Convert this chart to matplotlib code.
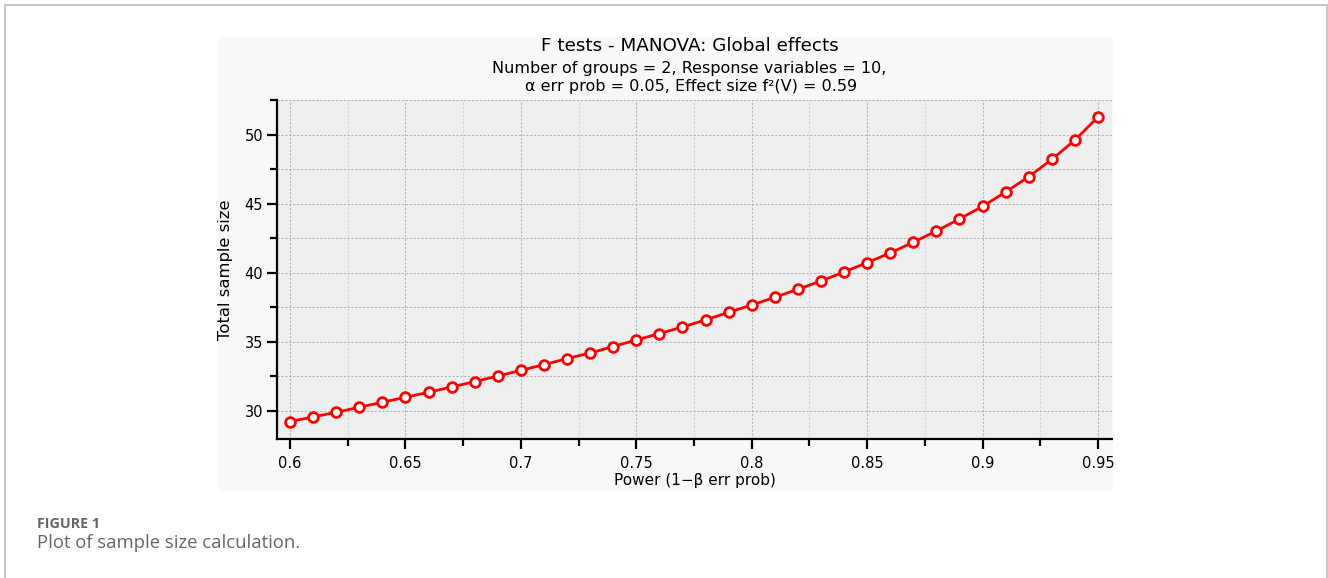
import matplotlib
matplotlib.use("Agg")
import matplotlib.pyplot as plt
from matplotlib.patches import Rectangle
from matplotlib.ticker import MultipleLocator, FixedLocator, FixedFormatter

# ---- data ----
power = [0.60, 0.61, 0.62, 0.63, 0.64, 0.65, 0.66, 0.67, 0.68, 0.69,
         0.70, 0.71, 0.72, 0.73, 0.74, 0.75, 0.76, 0.77, 0.78, 0.79,
         0.80, 0.81, 0.82, 0.83, 0.84, 0.85, 0.86, 0.87, 0.88, 0.89,
         0.90, 0.91, 0.92, 0.93, 0.94, 0.95]
sample_size = [29.23, 29.57, 29.90, 30.27, 30.63, 30.99, 31.35, 31.74, 32.12, 32.53,
               32.94, 33.35, 33.79, 34.20, 34.66, 35.14, 35.60, 36.08, 36.59, 37.14,
               37.67, 38.23, 38.81, 39.41, 40.06, 40.74, 41.44, 42.21, 43.03, 43.90,
               44.81, 45.85, 46.96, 48.21, 49.61, 51.28]
x_ticks = [0.6, 0.65, 0.7, 0.75, 0.8, 0.85, 0.9, 0.95]
x_tick_labels = ["0.6", "0.65", "0.7", "0.75", "0.8", "0.85", "0.9", "0.95"]
y_ticks = [30, 35, 40, 45, 50]
y_tick_labels = ["30", "35", "40", "45", "50"]

title = "F tests - MANOVA: Global effects"
subtitle1 = "Number of groups = 2, Response variables = 10,"
subtitle2 = "\u03b1 err prob = 0.05, Effect size f\u00b2(V) = 0.59"
xlabel = "Power (1\u2212\u03b2 err prob)"
ylabel = "Total sample size"
fig_label = "FIGURE 1"
caption = "Plot of sample size calculation."

W, H = 1328, 578
fig = plt.figure(figsize=(W / 100, H / 100), dpi=100)
fig.patch.set_facecolor("white")

def fx(px):
    return px / W

def fy(py):
    return 1 - py / H

# outer border (bottom runs off the canvas)
fig.patches.append(Rectangle((fx(4.5), fy(600)), fx(1326.5) - fx(4.5), fy(5) - fy(600),
                             transform=fig.transFigure, facecolor="none",
                             edgecolor="#c9c9c9", lw=1.5, zorder=-10))
# plot panel
fig.patches.append(Rectangle((fx(218), fy(491)), fx(1113) - fx(218), fy(37) - fy(491),
                             transform=fig.transFigure, facecolor="#f8f8f8",
                             edgecolor="none", zorder=-10))

ax = fig.add_axes([fx(277), fy(439), fx(1112) - fx(277), fy(100) - fy(439)])
ax.set_zorder(5)
ax.set_facecolor("#efefef")

ax.plot(power, sample_size, color="#ff0000", lw=2.0, marker="o", ms=7.0,
        mfc="white", mec="#ff0000", mew=2.0, zorder=3, clip_on=False)

ax.set_xlim(0.59437, 0.95606)
ax.set_ylim(27.97, 52.51)

ax.xaxis.set_major_locator(FixedLocator(x_ticks))
ax.xaxis.set_major_formatter(FixedFormatter(x_tick_labels))
ax.xaxis.set_minor_locator(MultipleLocator(0.025))
ax.yaxis.set_major_locator(FixedLocator(y_ticks))
ax.yaxis.set_major_formatter(FixedFormatter(y_tick_labels))
ax.yaxis.set_minor_locator(FixedLocator([32.5, 37.5, 42.5, 47.5, 52.5]))

for s in ["top", "right"]:
    ax.spines[s].set_visible(False)
for s in ["left", "bottom"]:
    ax.spines[s].set_linewidth(1.6)
    ax.spines[s].set_color("black")

ax.tick_params(which="major", direction="out", length=7, width=1.6, labelsize=10.5,
               colors="black")
ax.tick_params(which="minor", direction="out", length=5, width=1.6)
ax.tick_params(axis="y", which="major", pad=3)
ax.tick_params(axis="x", which="major", pad=5)

ax.grid(which="major", color="#b4b4b4", linestyle=(0, (2, 1.5)), lw=0.8)
ax.grid(which="minor", axis="x", color="#d4d4d4", linestyle=(0, (2, 1.5)), lw=0.8)
ax.grid(which="minor", axis="y", color="#b4b4b4", linestyle=(0, (2, 1.5)), lw=0.8)
ax.set_axisbelow(True)

ax.set_xlabel(xlabel, fontsize=11, labelpad=2)
ax.set_ylabel(ylabel, fontsize=11.8, labelpad=8)

fig.text(fx(690), fy(46), title, ha="center", va="center", fontsize=13.2)
fig.text(fx(689), fy(68), subtitle1, ha="center", va="center", fontsize=11.5)
fig.text(fx(691), fy(87), subtitle2, ha="center", va="center", fontsize=11.5)

fig.text(fx(37), fy(524), fig_label, ha="left", va="center", fontsize=10.3,
         fontweight="bold", color="#666666", family="Open Sans")
fig.text(fx(37), fy(543), caption, ha="left", va="center", fontsize=13.3,
         color="#666666", family="Open Sans")

fig.savefig("out.png", dpi=100, facecolor="white")
